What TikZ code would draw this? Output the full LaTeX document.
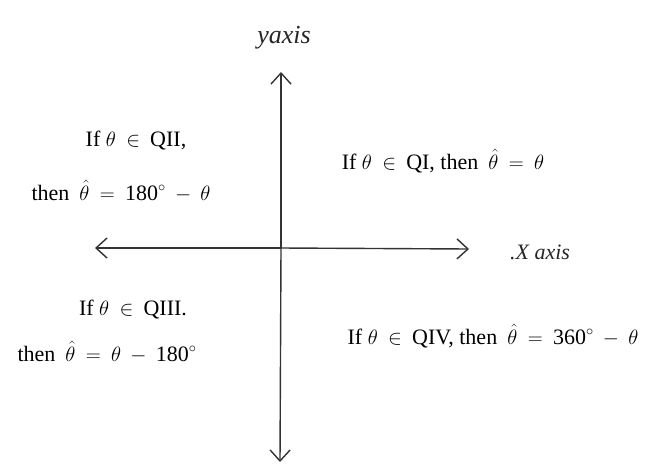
\documentclass[tikz,border=0pt]{standalone}
\usepackage{fontspec}
\setmainfont{Liberation Serif}
\usepackage{amsmath}
\usetikzlibrary{arrows.meta}
\newcommand{\mysp}{\mskip 4mu}
\newcommand{\tn}[1]{\text{#1}}
\begin{document}
\begin{tikzpicture}[x=1pt,y=-1pt,
  lbl/.style={font=\fontsize{22}{26}\selectfont, inner sep=0pt, text=black},
  hand/.style={font=\fontsize{26}{30}\selectfont\itshape, inner sep=0pt, text=black!85},
  axis/.style={line width=1.4pt, black!80, -{Straight Barb[length=11pt,width=20pt]}}]
\useasboundingbox (0,0) rectangle (663,466);
\coordinate (ytop) at (281,72);
\coordinate (ybot) at (280,462);
\coordinate (xleft) at (95,248);
\coordinate (xright) at (469,249);
\coordinate (o) at (281,248);
\draw[axis] (o) -- (ytop);
\draw[axis] (o) -- (ybot);
\draw[axis] (o) -- (xleft);
\draw[axis] (o) -- (xright);
\node[hand] (ylab) at (284,38) {yaxis};
\node[hand, font=\fontsize{22}{26}\selectfont\itshape] (xlab) at (540,252) {.X axis};
\node[lbl] (q2a) at (136,141) {If $\theta \mysp\in\mysp$ QII,};
\node[lbl] (q2b) at (121,191) {then $\mysp\hat{\theta} \mysp=\mysp \tn{180}^\circ \mysp-\mysp \theta$};
\node[lbl] (q1) at (443,161) {If $\theta \mysp\in\mysp$ QI, then $\mysp\hat{\theta} \mysp=\mysp \theta$};
\node[lbl] (q3a) at (133,310) {If $\theta \mysp\in\mysp$ QIII.};
\node[lbl] (q3b) at (107,352) {then $\mysp\hat{\theta} \mysp=\mysp \theta \mysp-\mysp \tn{180}^\circ$};
\node[lbl] (q4) at (493,336) {If $\theta \mysp\in\mysp$ QIV, then $\mysp\hat{\theta} \mysp=\mysp \tn{360}^\circ \mysp-\mysp \theta$};
\end{tikzpicture}
\end{document}
